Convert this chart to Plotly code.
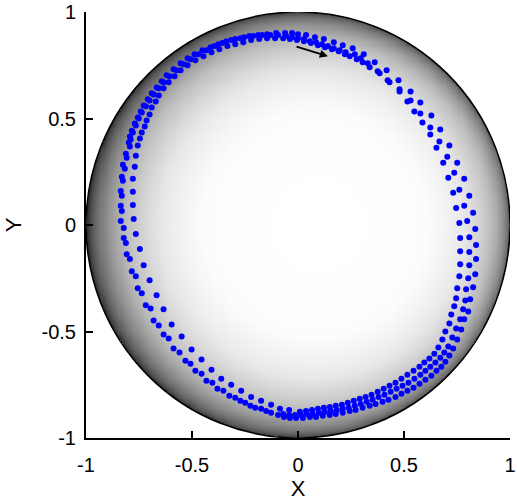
import numpy as np
import plotly.graph_objects as go

# Trajectory on the unit sphere, projected on the X-Y plane (three laps, clockwise)
lap1_x = [-0.789, -0.779, -0.765, -0.751, -0.737, -0.718, -0.700, -0.681, -0.657, -0.634,
          -0.606, -0.573, -0.540, -0.507, -0.469, -0.432, -0.394, -0.357, -0.315, -0.272,
          -0.230, -0.188, -0.146, -0.103, -0.061, -0.028, 0.000, 0.038, 0.080, 0.122,
          0.169, 0.211, 0.258, 0.310, 0.362, 0.418, 0.474, 0.531, 0.577, 0.629,
          0.671, 0.714, 0.751, 0.784, 0.808, 0.826, 0.836, 0.840, 0.840, 0.836,
          0.826, 0.812, 0.803, 0.784, 0.770, 0.751, 0.732, 0.714, 0.695, 0.676,
          0.653, 0.629, 0.601, 0.573, 0.545, 0.516, 0.488, 0.460, 0.427, 0.399,
          0.366, 0.338, 0.305, 0.272, 0.244, 0.211, 0.178, 0.150, 0.117, 0.085,
          0.056, 0.023, -0.009, -0.038, -0.066, -0.094, -0.150, -0.202, -0.249, -0.296,
          -0.352, -0.404, -0.455, -0.507, -0.559, -0.610, -0.657, -0.695, -0.737, -0.765,
          -0.793, -0.812, -0.822, -0.831, -0.831, -0.826, -0.817, -0.808, -0.793]
lap1_y = [0.401, 0.434, 0.467, 0.500, 0.528, 0.557, 0.585, 0.613, 0.642, 0.670,
          0.698, 0.726, 0.755, 0.778, 0.802, 0.821, 0.840, 0.854, 0.868, 0.877,
          0.887, 0.892, 0.896, 0.901, 0.901, 0.901, 0.896, 0.892, 0.882, 0.873,
          0.858, 0.844, 0.830, 0.802, 0.764, 0.726, 0.679, 0.627, 0.575, 0.514,
          0.448, 0.373, 0.292, 0.217, 0.137, 0.057, -0.019, -0.094, -0.160, -0.231,
          -0.292, -0.349, -0.406, -0.443, -0.491, -0.538, -0.580, -0.613, -0.642, -0.665,
          -0.684, -0.708, -0.726, -0.745, -0.764, -0.778, -0.792, -0.807, -0.821, -0.830,
          -0.840, -0.849, -0.858, -0.868, -0.873, -0.882, -0.887, -0.892, -0.896, -0.901,
          -0.901, -0.906, -0.906, -0.906, -0.901, -0.892, -0.873, -0.858, -0.835, -0.811,
          -0.778, -0.741, -0.698, -0.651, -0.599, -0.533, -0.472, -0.392, -0.321, -0.241,
          -0.160, -0.085, -0.014, 0.066, 0.137, 0.208, 0.264, 0.316, 0.368]

lap2_x = [-0.793, -0.784, -0.770, -0.756, -0.742, -0.728, -0.709, -0.690, -0.667, -0.643,
          -0.620, -0.587, -0.554, -0.521, -0.488, -0.451, -0.413, -0.376, -0.338, -0.296,
          -0.254, -0.211, -0.169, -0.131, -0.094, -0.056, -0.028, 0.000, 0.028, 0.056,
          0.085, 0.113, 0.141, 0.169, 0.197, 0.225, 0.268, 0.296, 0.329, 0.376,
          0.423, 0.479, 0.531, 0.577, 0.624, 0.667, 0.704, 0.737, 0.761, 0.784,
          0.798, 0.808, 0.808, 0.808, 0.803, 0.793, 0.789, 0.779, 0.765, 0.746,
          0.728, 0.709, 0.690, 0.671, 0.648, 0.624, 0.601, 0.577, 0.549, 0.521,
          0.493, 0.465, 0.437, 0.408, 0.380, 0.352, 0.324, 0.296, 0.268, 0.239,
          0.211, 0.183, 0.155, 0.127, 0.099, 0.070, 0.042, 0.014, -0.014, -0.042,
          -0.070, -0.127, -0.174, -0.225, -0.272, -0.324, -0.380, -0.432, -0.484, -0.531,
          -0.587, -0.634, -0.681, -0.718, -0.756, -0.784, -0.808, -0.822, -0.836, -0.836,
          -0.836, -0.831, -0.826, -0.812, -0.798]
lap2_y = [0.415, 0.443, 0.476, 0.505, 0.533, 0.561, 0.590, 0.618, 0.646, 0.675,
          0.703, 0.731, 0.759, 0.783, 0.802, 0.821, 0.835, 0.849, 0.863, 0.873,
          0.882, 0.887, 0.892, 0.892, 0.892, 0.887, 0.882, 0.877, 0.873, 0.863,
          0.858, 0.849, 0.840, 0.830, 0.821, 0.811, 0.802, 0.783, 0.759, 0.722,
          0.679, 0.637, 0.585, 0.524, 0.458, 0.392, 0.321, 0.245, 0.165, 0.090,
          0.019, -0.057, -0.127, -0.189, -0.250, -0.302, -0.354, -0.396, -0.443, -0.486,
          -0.528, -0.571, -0.599, -0.623, -0.646, -0.665, -0.684, -0.703, -0.722, -0.741,
          -0.755, -0.769, -0.783, -0.797, -0.807, -0.821, -0.830, -0.840, -0.849, -0.858,
          -0.863, -0.868, -0.873, -0.877, -0.882, -0.887, -0.887, -0.892, -0.892, -0.892,
          -0.887, -0.882, -0.863, -0.849, -0.825, -0.802, -0.769, -0.731, -0.684, -0.637,
          -0.580, -0.514, -0.448, -0.377, -0.297, -0.217, -0.137, -0.061, 0.019, 0.090,
          0.160, 0.226, 0.283, 0.335, 0.387]

lap3_x = [-0.746, -0.737, -0.723, -0.714, -0.700, -0.690, -0.671, -0.657, -0.634, -0.610,
          -0.582, -0.554, -0.521, -0.484, -0.446, -0.408, -0.371, -0.333, -0.296, -0.258,
          -0.221, -0.183, -0.146, -0.108, -0.070, -0.038, -0.005, 0.028, 0.061, 0.094,
          0.127, 0.160, 0.192, 0.221, 0.244, 0.277, 0.305, 0.338, 0.385, 0.432,
          0.479, 0.516, 0.549, 0.587, 0.624, 0.653, 0.685, 0.709, 0.732, 0.746,
          0.761, 0.765, 0.765, 0.765, 0.761, 0.751, 0.746, 0.737, 0.723, 0.714,
          0.695, 0.681, 0.662, 0.643, 0.620, 0.596, 0.573, 0.545, 0.516, 0.488,
          0.460, 0.432, 0.404, 0.376, 0.347, 0.319, 0.291, 0.263, 0.235, 0.207,
          0.178, 0.150, 0.122, 0.094, 0.066, 0.038, 0.009, -0.042, -0.085, -0.127,
          -0.174, -0.221, -0.268, -0.315, -0.362, -0.408, -0.455, -0.502, -0.549, -0.596,
          -0.634, -0.667, -0.700, -0.728, -0.746, -0.765, -0.775, -0.779, -0.779, -0.779,
          -0.770, -0.765, -0.756]
lap3_y = [0.406, 0.434, 0.462, 0.491, 0.519, 0.552, 0.580, 0.608, 0.642, 0.670,
          0.698, 0.726, 0.750, 0.774, 0.792, 0.811, 0.825, 0.840, 0.849, 0.858,
          0.868, 0.873, 0.877, 0.877, 0.877, 0.873, 0.868, 0.863, 0.854, 0.844,
          0.835, 0.825, 0.816, 0.802, 0.792, 0.778, 0.764, 0.741, 0.712, 0.670,
          0.627, 0.580, 0.533, 0.481, 0.425, 0.363, 0.292, 0.222, 0.151, 0.080,
          0.009, -0.061, -0.123, -0.184, -0.241, -0.297, -0.344, -0.382, -0.420, -0.462,
          -0.500, -0.538, -0.575, -0.604, -0.627, -0.646, -0.665, -0.684, -0.703, -0.722,
          -0.741, -0.755, -0.769, -0.783, -0.797, -0.807, -0.816, -0.825, -0.835, -0.844,
          -0.849, -0.854, -0.858, -0.863, -0.868, -0.873, -0.877, -0.868, -0.863, -0.844,
          -0.825, -0.807, -0.778, -0.750, -0.722, -0.679, -0.632, -0.585, -0.524, -0.467,
          -0.396, -0.330, -0.259, -0.189, -0.113, -0.042, 0.028, 0.094, 0.156, 0.217,
          0.274, 0.325, 0.373]

# Direction-of-motion arrow (tail -> head)
arrow_tail = (-0.014, 0.840)
arrow_head = (0.141, 0.792)

tick_vals = [-1, -0.5, 0, 0.5, 1]
tick_text = ["-1", "-0.5", "0", "0.5", "1"]

# Shaded sphere (lit slightly from the right), drawn as a heatmap of n.L
n = 400
g = np.linspace(-1, 1, n)
gx, gy = np.meshgrid(g, g)
r2 = gx ** 2 + gy ** 2
nz = np.sqrt(np.clip(1 - r2, 0, None))
light = np.array([0.10, 0.0, 1.0])
light = light / np.linalg.norm(light)
shade = gx * light[0] + gy * light[1] + nz * light[2]
shade = np.clip(shade, 0, 1)
shade[r2 > 1.0] = np.nan
shade = np.round(shade, 4)

gray_scale = [
    [0.00, "rgb(45,45,45)"],
    [0.12, "rgb(80,80,80)"],
    [0.30, "rgb(130,130,130)"],
    [0.50, "rgb(188,188,188)"],
    [0.70, "rgb(232,232,232)"],
    [0.85, "rgb(252,252,252)"],
    [1.00, "rgb(255,255,255)"],
]

fig = go.Figure()
fig.add_trace(go.Heatmap(
    x=g, y=g, z=shade, colorscale=gray_scale, zmin=0, zmax=1,
    showscale=False, hoverinfo="skip", zsmooth=False,
))

for lx, ly in [(lap1_x, lap1_y), (lap2_x, lap2_y), (lap3_x, lap3_y)]:
    fig.add_trace(go.Scatter(
        x=lx, y=ly, mode="markers",
        marker=dict(color="#0000ff", size=6, line=dict(width=0)),
        hoverinfo="skip", showlegend=False,
    ))

fig.add_shape(type="circle", xref="x", yref="y", x0=-1, y0=-1, x1=1, y1=1,
              line=dict(color="black", width=1.5))

fig.add_annotation(
    x=arrow_head[0], y=arrow_head[1], ax=arrow_tail[0], ay=arrow_tail[1],
    xref="x", yref="y", axref="x", ayref="y", text="",
    showarrow=True, arrowhead=2, arrowsize=0.9, arrowwidth=1.8, arrowcolor="black",
)

axis_common = dict(
    range=[-1, 1], showgrid=False, zeroline=False, showline=True,
    linecolor="black", linewidth=2, ticks="inside", ticklen=7, tickwidth=2,
    tickcolor="black", tickvals=tick_vals, ticktext=tick_text,
    ticklabeloverflow="allow", automargin=False,
    tickfont=dict(family="Liberation Sans, Arial, sans-serif", size=20, color="black"),
)

fig.update_layout(
    width=517, height=502,
    margin=dict(l=86, r=7, t=12, b=64),
    paper_bgcolor="white", plot_bgcolor="white",
    showlegend=False,
    font=dict(family="Liberation Sans, Arial, sans-serif", color="black"),
    xaxis=dict(axis_common, ticklabelstandoff=8,
               title=dict(text="X", font=dict(size=22), standoff=4)),
    yaxis=dict(axis_common, ticklabelstandoff=4,
               title=dict(text="Y", font=dict(size=22), standoff=14)),
)

fig.write_html("out.html")
